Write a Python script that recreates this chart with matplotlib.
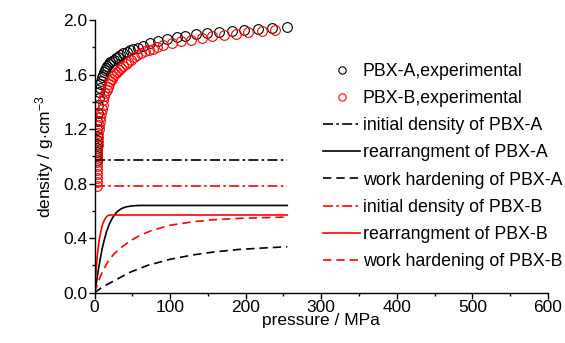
import matplotlib
matplotlib.use("Agg")
import matplotlib.pyplot as plt
from matplotlib.ticker import MultipleLocator

plt.rcParams["font.family"] = ["Liberation Sans", "DejaVu Sans"]
plt.rcParams["mathtext.fontset"] = "custom"
plt.rcParams["mathtext.rm"] = "Liberation Sans"
plt.rcParams["mathtext.it"] = "Liberation Sans"

# experimental compaction curves (pressure in MPa, density in g/cm3)
p_exp_a = [2.8, 2.9, 3.0, 3.1, 3.2, 3.3, 3.4, 3.6, 3.9, 4.3, 4.8, 5.4, 6.1, 6.9,
           7.8, 8.8, 9.9, 11.1, 12.4, 13.8, 15.3, 16.9, 18.8, 20.9, 23.2, 25.7,
           28.5, 31.0, 33.7, 37.9, 42.6, 46.8, 51.4, 57.8, 64.6, 73.4, 84.4,
           95.5, 108.7, 119.7, 134.3, 148.4, 165.0, 181.5, 197.8, 215.9, 234.5,
           254.3]
rho_exp_a = [0.97, 1.00, 1.03, 1.06, 1.09, 1.12, 1.15, 1.20, 1.26, 1.32, 1.38,
             1.43, 1.47, 1.50, 1.53, 1.555, 1.58, 1.60, 1.615, 1.63, 1.645, 1.66,
             1.675, 1.69, 1.70, 1.71, 1.72, 1.73, 1.743, 1.756, 1.768, 1.777,
             1.785, 1.797, 1.809, 1.829, 1.846, 1.858, 1.873, 1.883, 1.895,
             1.907, 1.914, 1.922, 1.927, 1.934, 1.941, 1.946]

p_exp_b = [2.8, 2.9, 3.0, 3.1, 3.2, 3.3, 3.4, 3.5, 3.6, 3.8, 4.0, 4.3, 4.6, 5.0,
           5.5, 6.1, 6.8, 7.6, 8.5, 9.5, 10.6, 11.8, 13.1, 14.5, 16.0, 17.6,
           19.3, 21.1, 23.0, 25.1, 27.3, 29.7, 32.3, 35.1, 38.1, 41.3, 44.8,
           48.5, 52.5, 56.8, 61.4, 66.3, 71.5, 77.0, 83.0, 91.0, 103.0, 115.0,
           128.0, 142.0, 156.0, 171.0, 187.0, 203.0, 221.0, 239.0]
rho_exp_b = [0.78, 0.81, 0.84, 0.87, 0.90, 0.93, 0.96, 0.99, 1.02, 1.05, 1.08,
             1.11, 1.14, 1.17, 1.20, 1.23, 1.26, 1.29, 1.32, 1.35, 1.38, 1.41,
             1.44, 1.465, 1.49, 1.51, 1.53, 1.55, 1.57, 1.59, 1.605, 1.62, 1.635,
             1.65, 1.665, 1.68, 1.695, 1.71, 1.725, 1.74, 1.755, 1.77, 1.78,
             1.79, 1.80, 1.819, 1.831, 1.844, 1.856, 1.868, 1.881, 1.888, 1.900,
             1.910, 1.917, 1.924]

# model components
p_init = [0, 255]
rho_init_a = [0.97, 0.97]
rho_init_b = [0.78, 0.78]

p_rear_a = [0, 2, 4, 6, 8, 10, 13, 16, 20, 25, 30, 36, 42, 50, 60, 255]
rho_rear_a = [0, 0.06, 0.13, 0.20, 0.26, 0.32, 0.39, 0.45, 0.51, 0.56, 0.595,
              0.618, 0.63, 0.637, 0.64, 0.64]

p_rear_b = [0, 1, 2, 3, 4, 6, 8, 10, 12, 14, 16, 18, 20, 255]
rho_rear_b = [0, 0.08, 0.16, 0.23, 0.29, 0.38, 0.44, 0.49, 0.52, 0.543, 0.558,
              0.566, 0.57, 0.57]

p_work_a = [0, 10, 25, 47, 70, 100, 130, 157, 190, 220, 255]
rho_work_a = [0, 0.04, 0.085, 0.15, 0.20, 0.245, 0.277, 0.298, 0.317, 0.327, 0.337]

p_work_b = [0, 5, 10, 18, 25, 35, 47, 60, 75, 100, 130, 157, 190, 220, 255]
rho_work_b = [0, 0.08, 0.15, 0.23, 0.28, 0.33, 0.38, 0.42, 0.455, 0.495, 0.52,
              0.535, 0.545, 0.55, 0.555]

fig = plt.figure(figsize=(5.65, 3.43), dpi=100)
ax = fig.add_axes([0.1673, 0.1466, 0.8027, 0.7951])

mk = dict(linestyle="none", marker="o", markersize=7, markerfacecolor="none",
          markeredgewidth=0.8)
ax.plot(p_exp_a, rho_exp_a, color="black", label="PBX-A,experimental", **mk)
ax.plot(p_exp_b, rho_exp_b, color="red", label="PBX-B,experimental", **mk)

lw = 1.2
dashdot = (0, (6, 2, 1.5, 2))
dashed = (0, (5, 3))
ax.plot(p_init, rho_init_a, color="black", lw=lw, linestyle=dashdot,
        label="initial density of PBX-A")
ax.plot(p_rear_a, rho_rear_a, color="black", lw=lw, label="rearrangment of PBX-A")
ax.plot(p_work_a, rho_work_a, color="black", lw=lw, linestyle=dashed,
        label="work hardening of PBX-A")
ax.plot(p_init, rho_init_b, color="red", lw=lw, linestyle=dashdot,
        label="initial density of PBX-B")
ax.plot(p_rear_b, rho_rear_b, color="red", lw=lw, label="rearrangment of PBX-B")
ax.plot(p_work_b, rho_work_b, color="red", lw=lw, linestyle=dashed,
        label="work hardening of PBX-B")

ax.set_xlim(0, 600)
ax.set_ylim(0, 2.0)
ax.xaxis.set_major_locator(MultipleLocator(100))
ax.xaxis.set_minor_locator(MultipleLocator(50))
ax.yaxis.set_major_locator(MultipleLocator(0.4))
ax.yaxis.set_minor_locator(MultipleLocator(0.2))
ax.yaxis.set_major_formatter(plt.FuncFormatter(lambda v, pos: f"{v:.1f}"))
ax.spines["top"].set_visible(False)
ax.spines["right"].set_visible(False)
for s in ("left", "bottom"):
    ax.spines[s].set_linewidth(1.0)
ax.tick_params(which="major", direction="out", length=4, width=1.0,
               labelsize=12.5, pad=1)
ax.tick_params(which="minor", direction="out", length=2.5, width=1.0)

ax.set_xlabel("pressure / MPa", fontsize=12.5, labelpad=-1)
ax.set_ylabel("density / g$\\cdot$cm$^{-3}$", fontsize=12.5, labelpad=5)

ax.legend(loc="upper left", bbox_to_anchor=(0.504, 0.842), frameon=False,
          fontsize=12.8, handlelength=2.08, handletextpad=0.15,
          labelspacing=0.57, borderpad=0, borderaxespad=0, markerscale=0.75)

fig.savefig("out.png", dpi=100)
